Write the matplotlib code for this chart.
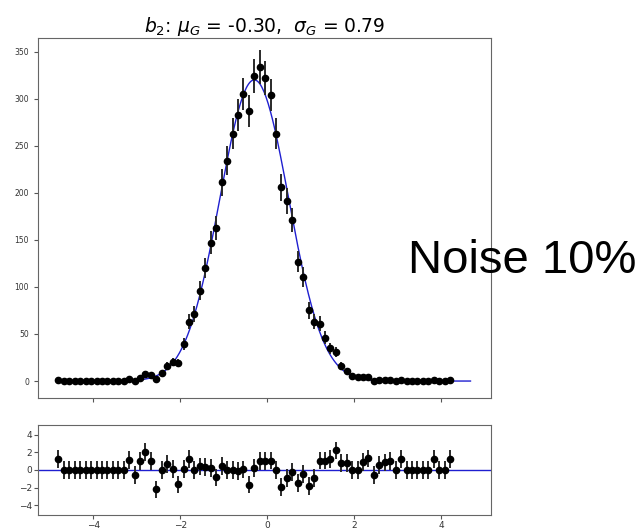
import numpy as np
import matplotlib
matplotlib.use("Agg")
import matplotlib.pyplot as plt

# bin centres
x_start = -4.8
bin_width = 0.125
n_bins = 73
x = x_start + bin_width * np.arange(n_bins)

# histogram counts
counts = np.array([
    1, 0, 0, 0, 0, 0, 0, 0, 0, 0, 0, 0, 0,
    2, 0, 3, 8, 6, 2, 9, 16, 20, 19, 39, 63, 71,
    96, 120, 147, 163, 211, 234, 263, 283, 305, 287, 324, 334,
    322, 304, 263, 206, 191, 171, 127, 111, 75, 63, 61, 46,
    35, 31, 16, 11, 5, 4, 4, 4, 0, 1, 1, 1, 0, 1,
    0, 0, 0, 0, 0, 1, 0, 0, 1,
])

# pulls
residuals = np.array([
    1.2, 0, 0, 0, 0, 0, 0, 0, 0, 0, 0, 0, 0,
    1.15, -0.55, 1.0, 2.05, 1.0, -2.2, 0, 0.7, 0.12, -1.63, 0.1, 1.2, 0,
    0.4, 0.3, 0.22, -0.85, 0.45, 0, 0, -0.15, 0.05, -1.65, 0.2, 1.0,
    1.0, 1.05, 0, -1.9, -0.95, -0.2, -1.45, -0.45, -1.85, -0.9, 1.05, 1.05,
    1.2, 2.2, 0.8, 0.8, 0, 0, 0.9, 1.3, -0.55, 0.55, 0.85, 1.0, 0, 1.2,
    0, 0, 0, 0, 0, 1.25, 0, 0, 1.25,
])

# gaussian fit parameters
amp = 320.0
mu = -0.30
sigma = 0.79
curve_range = (-4.8, 4.67)

fig = plt.figure(figsize=(6.37, 5.31), dpi=100)
ax1 = fig.add_axes([0.0597, 0.2505, 0.711, 0.677])
ax2 = fig.add_axes([0.0597, 0.030, 0.711, 0.170])

xs = np.linspace(curve_range[0], curve_range[1], 400)
fit = amp * np.exp(-(xs - mu) ** 2 / (2 * sigma ** 2))

ax1.plot(xs, fit, color='#1f1fd0', lw=1.0, zorder=2)
ax1.errorbar(x, counts, yerr=np.sqrt(counts), fmt='o', color='black',
             ecolor='#2a2a2a', elinewidth=1.4, markersize=4.5, zorder=3)
ax1.set_xlim(-5.27, 5.14)
ax1.set_ylim(-18, 364)
ax1.set_yticks(np.arange(0, 351, 50))
ax1.set_xticks([-4, -2, 0, 2, 4])
ax1.tick_params(axis='x', labelbottom=False, length=3, color='#555555')
ax1.tick_params(axis='y', labelsize=5.5, length=3, color='#555555', labelcolor='#333333')
ax1.set_title(r'$b_2$: $\mu_G$ = -0.30,  $\sigma_G$ = 0.79', fontsize=13.5, pad=3)

ax2.axhline(0, color='#1f1fd0', lw=1.0, zorder=2)
ax2.errorbar(x, residuals, yerr=np.ones(n_bins), fmt='o', color='black',
             ecolor='#2a2a2a', elinewidth=1.4, markersize=4.5, zorder=3)
ax2.set_xlim(-5.27, 5.14)
ax2.set_ylim(-5.1, 5.1)
ax2.set_yticks([-4, -2, 0, 2, 4])
ax2.set_xticks([-4, -2, 0, 2, 4])
ax2.tick_params(labelsize=6.5, length=3, pad=1.5, color='#555555', labelcolor='#333333')

for ax in (ax1, ax2):
    for sp in ax.spines.values():
        sp.set_color('#666666')

fig.text(0.640, 0.486, 'Noise 10%', fontsize=34, family='Liberation Sans',
         ha='left', va='baseline', color='black')

fig.savefig('out.png', dpi=100)
